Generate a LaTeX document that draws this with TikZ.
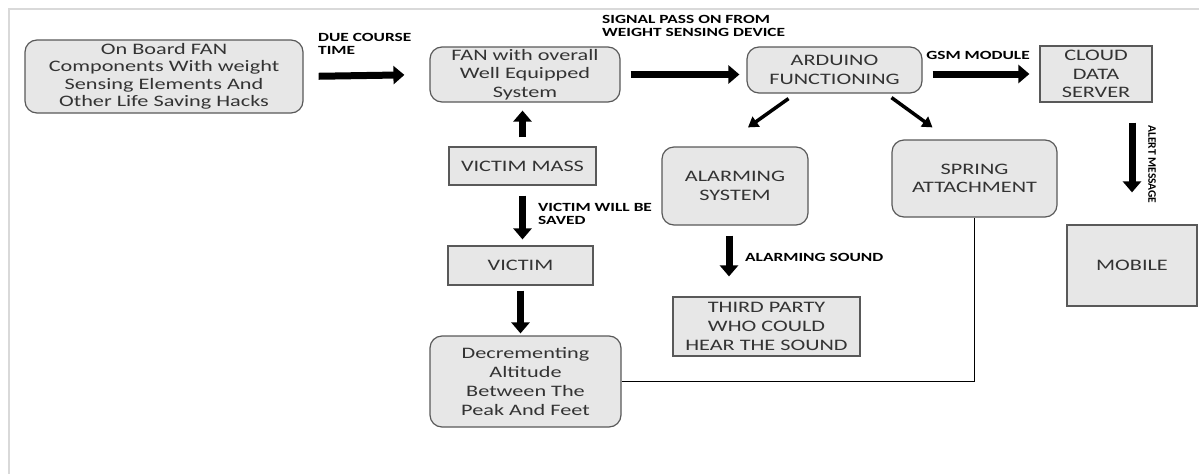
\documentclass[tikz,border=0pt]{standalone}
\usepackage{fontspec}
\setmainfont{Carlito}[FakeStretch=1.39]
\newfontfamily\rotfam{Carlito}
\usetikzlibrary{arrows.meta,calc}
\definecolor{BoxFill}{rgb}{0.906,0.906,0.906}
\definecolor{BoxLine}{rgb}{0.35,0.35,0.35}
\definecolor{TextClr}{rgb}{0.2,0.2,0.2}
\definecolor{FrameClr}{rgb}{0.85,0.85,0.85}
\newcommand\boxfont{\fontsize{16}{18.7}\selectfont}
\newcommand\lblfont{\fontsize{12.5}{13.3}\selectfont\bfseries}

\begin{document}
\begin{tikzpicture}[x=1pt,y=-1pt,
  rbox/.style={draw=BoxLine,fill=BoxFill,rounded corners=12pt,line width=1.2pt,
    text=TextClr,font=\boxfont,align=center,inner sep=0pt},
  sbox/.style={rbox,rounded corners=0pt},
  fatarrow/.style={line width=7pt,-{Triangle[length=11pt,width=18pt]}},
  thinarrow/.style={line width=3.5pt,-{Triangle[length=10pt,width=12pt]}},
  lbl/.style={font=\lblfont,align=left,inner sep=0pt,anchor=north west}]
\useasboundingbox (0,0) rectangle (1199,474);
\draw[FrameClr,line width=1.5pt] (1199,9) -- (9,9) -- (9,474);

% boxes
\node[rbox,minimum width=278,minimum height=73,
  font=\fontsize{16}{17.5}\selectfont] (onboard) at (164,76.5)
  {On Board FAN\\Components With weight\\Sensing Elements And\\Other Life Saving Hacks};
\node[rbox,minimum width=190,minimum height=55] (fan) at (525,74.5)
  {FAN with overall\\Well Equipped\\System};
\node[rbox,minimum width=175,minimum height=46] (arduino) at (834.5,70)
  {ARDUINO\\FUNCTIONING};
\node[sbox,minimum width=112,minimum height=56] (cloud) at (1096,74)
  {CLOUD\\DATA\\SERVER};
\node[sbox,minimum width=147,minimum height=38] (mass) at (522.5,166) {VICTIM MASS};
\node[sbox,minimum width=145,minimum height=39] (victim) at (520.5,265.5) {VICTIM};
\node[rbox,minimum width=191,minimum height=91] (decr) at (525.5,381.5)
  {Decrementing\\Altitude\\Between The\\Peak And Feet};
\node[rbox,minimum width=146,minimum height=78] (alarm) at (735,186)
  {ALARMING\\SYSTEM};
\node[sbox,minimum width=187,minimum height=59] (third) at (766.5,326.5)
  {THIRD PARTY\\WHO COULD\\HEAR THE SOUND};
\node[rbox,minimum width=165,minimum height=77] (spring) at (974.5,178.5)
  {SPRING\\ATTACHMENT};
\node[sbox,minimum width=130,minimum height=81] (mobile) at (1132,265.5) {MOBILE};

% labels
\node[lbl] (duelbl) at (318,33) {DUE COURSE\\TIME};
\node[lbl] (siglbl) at (602,15) {SIGNAL PASS ON FROM\\WEIGHT SENSING DEVICE};
\node[lbl,anchor=center] (gsmlbl) at (978,55) {GSM MODULE};
\node[lbl] (savedlbl) at (538,203) {VICTIM WILL BE\\SAVED};
\node[lbl,anchor=west] (soundlbl) at (745,257) {ALARMING SOUND};
\node[lbl,anchor=center,rotate=-90,font=\rotfam\bfseries\fontsize{11.5}{12}\selectfont]
  (alertlbl) at (1152,164.5) {ALERT MESSAGE};

% arrows
\draw[fatarrow,shorten <=15pt,shorten >=25pt] (onboard.east) -- (fan.west);
\draw[fatarrow,shorten <=10pt,shorten >=7pt] (fan.east) -- (fan.east -| arduino.west);
\draw[fatarrow,shorten <=10pt,shorten >=10pt] (cloud.west -| arduino.east) -- (cloud.west);
\draw[fatarrow,shorten <=9pt,shorten >=8pt] (mass.north) -- (mass.north |- fan.south);
\draw[fatarrow,shorten <=10pt,shorten >=6pt] (mass.south) -- (mass.south |- victim.north);
\draw[fatarrow,shorten <=5pt,shorten >=2pt] (victim.south) -- (victim.south |- decr.north);
\draw[thinarrow] ($(arduino.south)+(-46,5)$) -- ($(alarm.north)+(13,-19)$);
\draw[thinarrow] ($(arduino.south)+(57,4)$) -- ($(spring.north)+(-42,-12)$);
\coordinate (alarmtap) at ($(alarm.south)+(-6,0)$);
\draw[fatarrow,shorten <=10pt,shorten >=20pt] (alarmtap) -- (alarmtap |- third.north);
\draw[fatarrow,shorten <=20pt,shorten >=32pt] (cloud.south -| mobile.north) -- (mobile.north);
\draw[line width=1.5pt] (decr.east) -| (spring.south);
\end{tikzpicture}
\end{document}
